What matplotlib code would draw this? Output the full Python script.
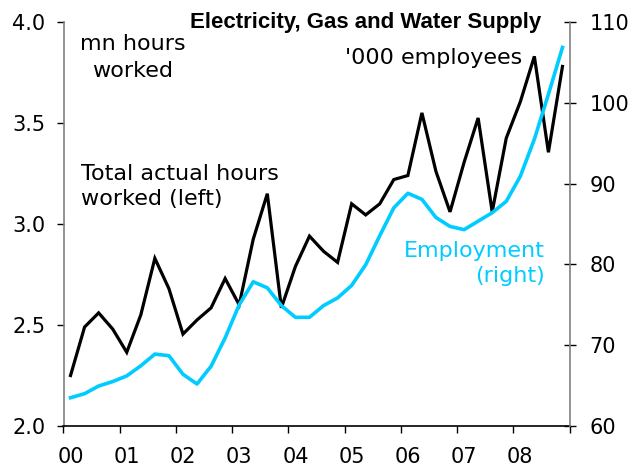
import matplotlib
matplotlib.use("Agg")
import matplotlib.pyplot as plt
from matplotlib.ticker import FixedLocator, NullFormatter

year_labels = ["00", "01", "02", "03", "04", "05", "06", "07", "08"]

hours = [2.25, 2.49, 2.56, 2.48, 2.365, 2.55, 2.83, 2.68, 2.455, 2.525,
         2.585, 2.73, 2.60, 2.925, 3.15, 2.585, 2.79, 2.94, 2.865, 2.81,
         3.10, 3.045, 3.10, 3.22, 3.24, 3.55, 3.26, 3.06, 3.305, 3.525,
         3.06, 3.425, 3.605, 3.83, 3.355, 3.78]

employment = [63.5, 64.0, 64.95, 65.5, 66.2, 67.45, 68.9, 68.7, 66.4, 65.2,
              67.4, 70.9, 75.0, 77.85, 77.1, 74.9, 73.45, 73.45, 74.9, 75.85,
              77.4, 79.95, 83.55, 87.0, 88.8, 88.05, 85.8, 84.7, 84.3, 85.35,
              86.4, 87.8, 90.9, 95.5, 101.05, 106.85]

BLUE = "#00CCFF"

fig = plt.figure(figsize=(6.3, 4.68), dpi=100)
ax = fig.add_axes([63.5 / 630, 1 - 426 / 468, (569.5 - 63.5) / 630, (426 - 22) / 468])
ax2 = ax.twinx()

x = list(range(len(hours)))
ax.plot(x, hours, color="black", lw=2.3, solid_joinstyle="miter", zorder=3)
ax2.plot(x, employment, color=BLUE, lw=2.6, zorder=2)

ax.set_xlim(-0.5, len(hours) - 0.5)
ax.set_ylim(2.0, 4.0)
ax2.set_ylim(60, 110)

ax.set_yticks([2.0, 2.5, 3.0, 3.5, 4.0])
ax.set_yticklabels(["2.0", "2.5", "3.0", "3.5", "4.0"])
ax2.set_yticks([60, 70, 80, 90, 100, 110])

ax.xaxis.set_major_locator(FixedLocator([-0.5 + 4 * k for k in range(10)]))
ax.xaxis.set_major_formatter(NullFormatter())
ax.xaxis.set_minor_locator(FixedLocator([4 * k for k in range(len(year_labels))]))
ax.set_xticklabels(year_labels, minor=True)

for a in (ax, ax2):
    a.spines["top"].set_visible(False)
    a.patch.set_visible(False)
ax.spines["right"].set_visible(False)
ax2.spines["left"].set_visible(False)
ax2.spines["bottom"].set_visible(False)
ax.spines["left"].set_color("#808080")
ax2.spines["right"].set_color("#808080")
ax.spines["bottom"].set_color("black")
for s in (ax.spines["left"], ax2.spines["right"], ax.spines["bottom"]):
    s.set_linewidth(1.2)

TS = 15
ax.tick_params(axis="y", direction="out", length=5, width=1, colors="black",
               labelsize=TS, pad=8)
ax2.tick_params(axis="y", direction="inout", length=9, width=1, colors="black",
                labelsize=TS, pad=10)
ax.tick_params(axis="x", which="major", direction="out", length=5, width=1)
ax.tick_params(axis="x", which="minor", length=0, labelsize=TS, pad=15)

fig.text(541.7 / 630, 1 - 28 / 468, "Electricity, Gas and Water Supply",
         family="Liberation Sans", weight="bold", fontsize=16,
         ha="right", va="baseline")

fs = 16
def put(xp, yp, s, **kw):
    ax.annotate(s, xy=(xp / 630, 1 - yp / 468), xycoords="figure fraction",
                fontsize=fs, va="baseline", **kw)

put(133, 50, "mn hours", ha="center")
put(133, 77, "worked", ha="center")
put(81, 179.5, "Total actual hours", ha="left")
put(81, 205, "worked (left)", ha="left")
put(522, 63.5, "'000 employees", ha="right")
put(545, 256.7, "Employment", ha="right", color=BLUE)
put(545, 281.5, "(right)", ha="right", color=BLUE)

fig.savefig("out.png", dpi=100)
